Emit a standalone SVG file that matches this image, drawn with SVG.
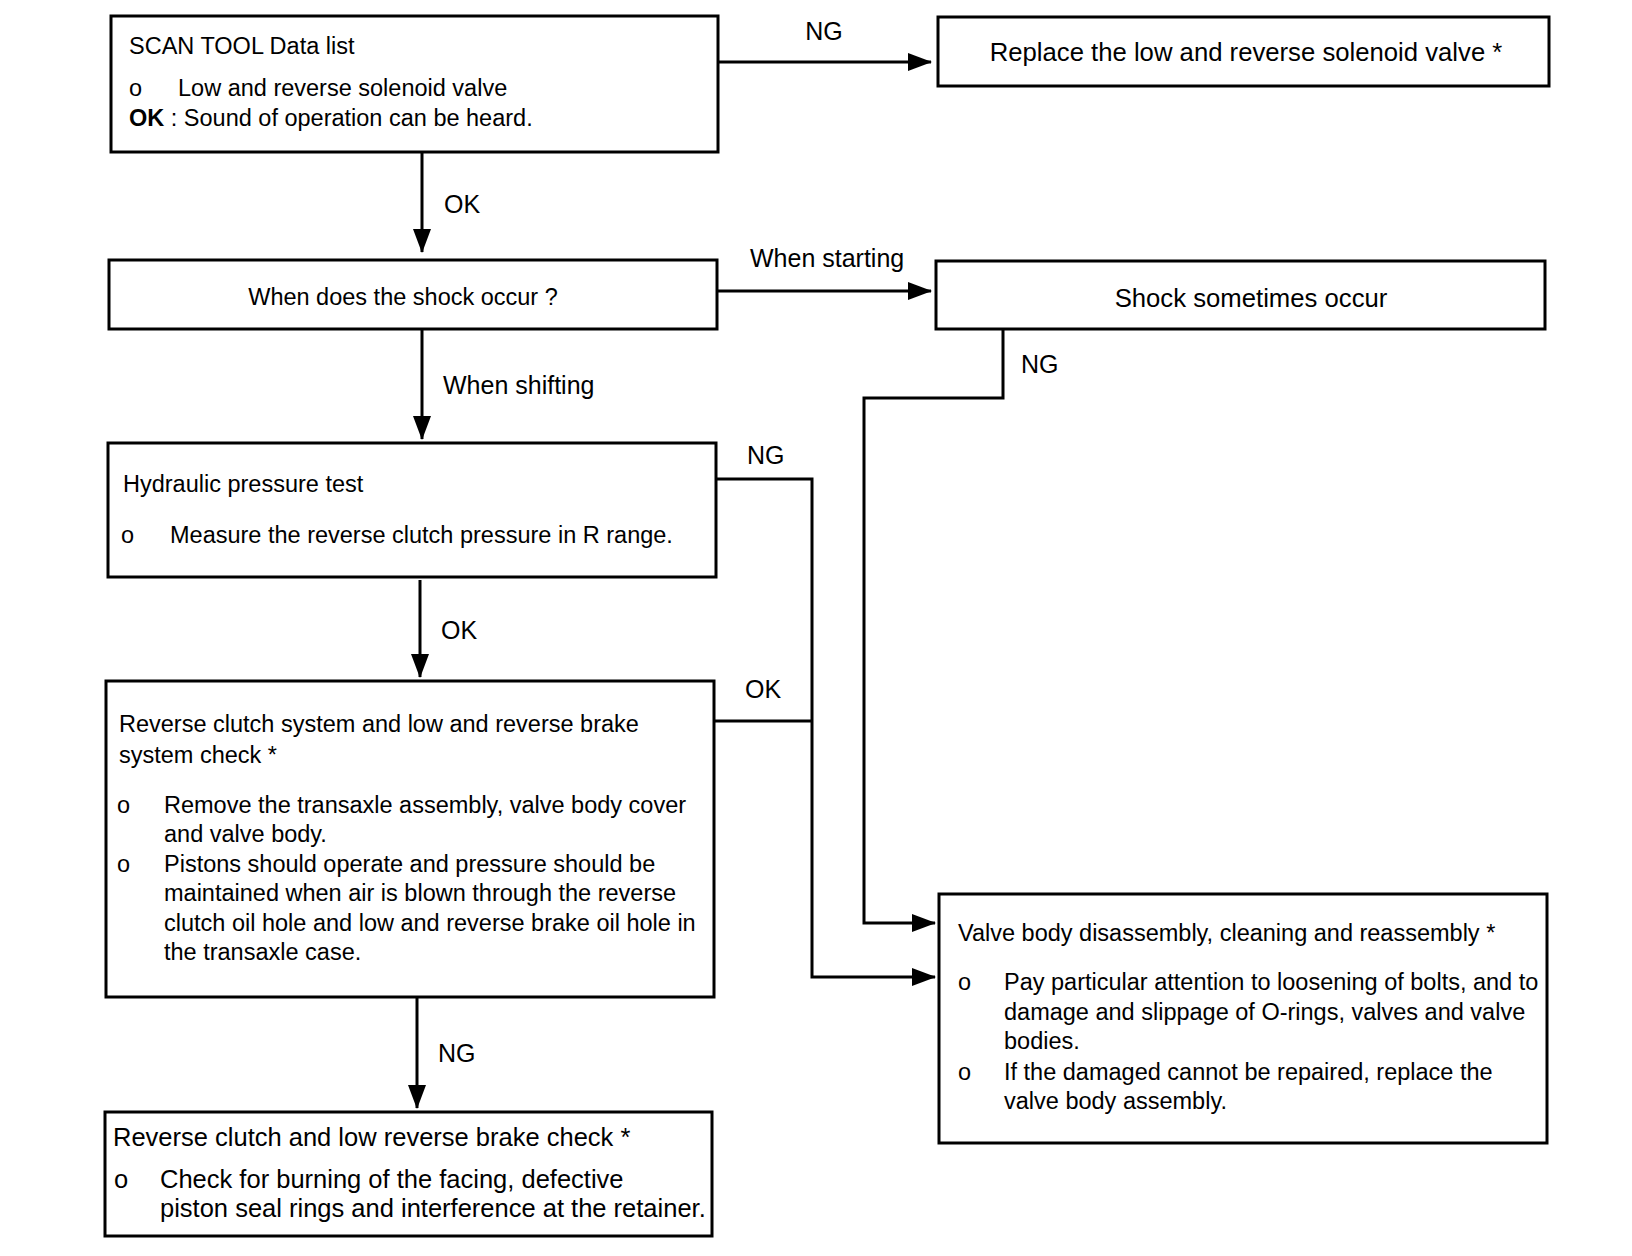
<svg xmlns="http://www.w3.org/2000/svg" width="1632" height="1256" viewBox="0 0 1632 1256">
<style>
.box{fill:#fff;stroke:#000;stroke-width:3}
.c{fill:none;stroke:#000;stroke-width:3}
text{font-family:"Liberation Sans",Arial,sans-serif;fill:#000}
.t{font-size:23.5px}
.big{font-size:25.7px}
.lb{font-size:25px}
.b7{font-size:25.5px}
</style>
<defs>
<marker id="ah" viewBox="0 0 24 18" refX="23" refY="9" markerWidth="24" markerHeight="18" markerUnits="userSpaceOnUse" orient="auto">
<path d="M0,0 L24,9 L0,18 Z" fill="#000"/>
</marker>
</defs>
<rect width="1632" height="1256" fill="#fff"/>
<g id="connectors">
<path class="c" d="M718,62 H931" marker-end="url(#ah)"/>
<path class="c" d="M422,152 V252" marker-end="url(#ah)"/>
<path class="c" d="M717,291 H931" marker-end="url(#ah)"/>
<path class="c" d="M422,329 V439" marker-end="url(#ah)"/>
<path class="c" d="M1003,329 V398 H864 V923 H935" marker-end="url(#ah)"/>
<path class="c" d="M716,479 H812 V977 H935" marker-end="url(#ah)"/>
<path class="c" d="M714,721 H812"/>
<path class="c" d="M420,580 V677" marker-end="url(#ah)"/>
<path class="c" d="M417,997 V1108" marker-end="url(#ah)"/>
<text class="lb" x="824" y="40" text-anchor="middle">NG</text>
<text class="lb" x="444" y="213">OK</text>
<text class="lb" x="750" y="267">When starting</text>
<text class="lb" x="443" y="394">When shifting</text>
<text class="lb" x="1021" y="373">NG</text>
<text class="lb" x="747" y="464">NG</text>
<text class="lb" x="441" y="639">OK</text>
<text class="lb" x="745" y="698">OK</text>
<text class="lb" x="438" y="1062">NG</text>
</g>
<g id="scan-tool">
<rect class="box" x="111" y="16" width="607" height="136"/>
<text class="t" x="129" y="54">SCAN TOOL Data list</text>
<text class="t" x="129" y="96">o</text>
<text class="t" x="178" y="96">Low and reverse solenoid valve</text>
<text class="t" x="129" y="126"><tspan font-weight="bold">OK</tspan> : Sound of operation can be heard.</text>
</g>
<g id="replace-solenoid">
<rect class="box" x="938" y="17" width="611" height="69"/>
<text class="big" x="1246" y="61" text-anchor="middle">Replace the low and reverse solenoid valve *</text>
</g>
<g id="when-shock">
<rect class="box" x="109" y="260" width="608" height="69"/>
<text class="t" x="403" y="305" text-anchor="middle">When does the shock occur ?</text>
</g>
<g id="shock-sometimes">
<rect class="box" x="936" y="261" width="609" height="68"/>
<text class="big" x="1251" y="307" text-anchor="middle">Shock sometimes occur</text>
</g>
<g id="hydraulic-test">
<rect class="box" x="108" y="443" width="608" height="134"/>
<text class="t" x="123" y="492">Hydraulic pressure test</text>
<text class="t" x="121" y="543">o</text>
<text class="t" x="170" y="543">Measure the reverse clutch pressure in R range.</text>
</g>
<g id="system-check">
<rect class="box" x="106" y="681" width="608" height="316"/>
<text class="t" x="119" y="732">Reverse clutch system and low and reverse brake</text>
<text class="t" x="119" y="763">system check *</text>
<text class="t" x="117" y="813">o</text>
<text class="t" x="164" y="813">Remove the transaxle assembly, valve body cover</text>
<text class="t" x="164" y="842">and valve body.</text>
<text class="t" x="117" y="872">o</text>
<text class="t" x="164" y="872">Pistons should operate and pressure should be</text>
<text class="t" x="164" y="901">maintained when air is blown through the reverse</text>
<text class="t" x="164" y="931">clutch oil hole and low and reverse brake oil hole in</text>
<text class="t" x="164" y="960">the transaxle case.</text>
</g>
<g id="brake-check">
<rect class="box" x="105" y="1112" width="607" height="124"/>
<text class="b7" x="113" y="1146">Reverse clutch and low reverse brake check *</text>
<text class="b7" x="114" y="1188">o</text>
<text class="b7" x="160" y="1188">Check for burning of the facing, defective</text>
<text class="b7" x="160" y="1217">piston seal rings and interference at the retainer.</text>
</g>
<g id="valve-body">
<rect class="box" x="939" y="894" width="608" height="249"/>
<text class="t" x="958" y="941">Valve body disassembly, cleaning and reassembly *</text>
<text class="t" x="958" y="990">o</text>
<text class="t" x="1004" y="990">Pay particular attention to loosening of bolts, and to</text>
<text class="t" x="1004" y="1020">damage and slippage of O-rings, valves and valve</text>
<text class="t" x="1004" y="1049">bodies.</text>
<text class="t" x="958" y="1080">o</text>
<text class="t" x="1004" y="1080">If the damaged cannot be repaired, replace the</text>
<text class="t" x="1004" y="1109">valve body assembly.</text>
</g>
</svg>
